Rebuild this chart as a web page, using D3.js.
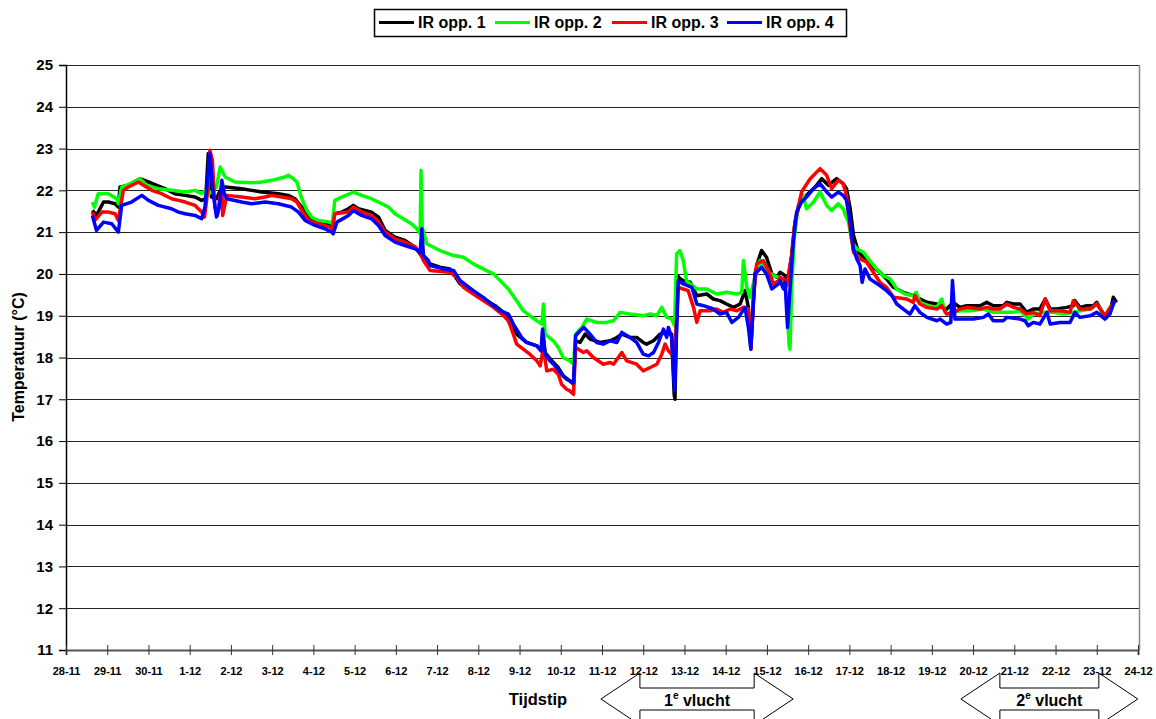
<!DOCTYPE html>
<html>
<head>
<meta charset="utf-8">
<script src="https://cdn.jsdelivr.net/npm/d3@7"></script>
<style>
  body { margin: 0; background: #fff; }
  text { font-family: "Liberation Sans", Arial, sans-serif; font-weight: bold; fill: #000; }
</style>
</head>
<body>
<svg id="chart"></svg>
<script>
// x-as: dagen vanaf 28-11
const dagLabels = ["28-11","29-11","30-11","1-12","2-12","3-12","4-12","5-12","6-12","7-12","8-12","9-12","10-12","11-12","12-12","13-12","14-12","15-12","16-12","17-12","18-12","19-12","20-12","21-12","22-12","23-12","24-12"];
const yTicks = [11,12,13,14,15,16,17,18,19,20,21,22,23,24,25];

const seriesNames = ["IR opp. 1", "IR opp. 2", "IR opp. 3", "IR opp. 4"];
const seriesColors = ["#000000", "#00ff00", "#ff0000", "#0000ff"];

// IR opp. 1
const dagen1 = [0.64,0.74,0.91,1.03,1.19,1.27,1.31,1.51,1.79,2.00,2.20,2.40,2.64,2.89,3.13,3.29,3.39,3.45,3.49,3.53,3.65,3.74,3.86,4.26,4.50,4.75,5.15,5.39,5.55,5.72,5.88,6.12,6.40,6.46,6.51,6.69,6.85,6.97,7.09,7.25,7.41,7.58,7.74,7.98,8.22,8.47,8.59,8.71,
  8.83,9.07,9.31,9.40,9.56,9.72,9.96,10.20,10.41,10.61,10.69,10.77,10.93,11.17,11.42,11.54,11.56,11.62,11.78,11.94,12.06,12.22,12.31,12.36,12.47,12.59,12.71,12.95,13.20,13.36,13.48,13.68,13.84,14.00,14.08,14.25,14.41,14.57,14.69,14.75,14.77,14.83,14.88,14.97,15.14,15.22,15.30,15.54,15.70,15.86,16.02,16.19,16.35,16.47,16.55,16.61,16.71,16.79,16.87,16.99,17.12,17.24,
  17.32,17.44,17.50,17.60,17.68,17.80,17.96,18.17,18.33,18.49,18.69,18.85,18.93,19.02,19.10,19.22,19.38,19.58,19.74,19.90,20.07,20.31,20.55,20.63,20.88,21.12,21.24,21.36,21.52,21.68,21.85,22.17,22.33,22.49,22.73,22.82,22.98,23.14,23.30,23.46,23.62,23.75,23.87,24.03,24.27,24.43,24.47,24.59,24.76,24.92,25.00,25.20,25.32,25.40,25.48];
const temp1 = [21.52,21.40,21.72,21.72,21.68,21.60,22.08,22.12,22.28,22.20,22.12,22.04,21.92,21.88,21.84,21.76,21.80,22.88,22.72,21.84,21.80,22.00,22.08,22.04,22.00,21.96,21.92,21.88,21.80,21.60,21.36,21.24,21.16,21.12,21.44,21.48,21.56,21.64,21.56,21.52,21.48,21.36,21.04,20.88,20.80,20.64,20.48,20.28,
  20.24,20.16,20.12,20.00,19.76,19.64,19.52,19.36,19.24,19.08,18.96,18.80,18.56,18.36,18.28,18.16,18.64,18.12,17.92,17.76,17.56,17.44,17.36,18.40,18.36,18.56,18.44,18.36,18.40,18.48,18.56,18.48,18.48,18.36,18.32,18.40,18.56,18.60,18.56,17.12,17.00,19.96,19.90,19.84,19.80,19.64,19.48,19.52,19.40,19.36,19.28,19.20,19.28,19.60,19.20,18.24,20.00,20.32,20.56,20.40,20.00,19.92,
  20.04,19.96,19.80,20.44,21.24,21.72,21.88,22.08,22.28,22.12,22.28,22.16,22.04,21.56,20.92,20.52,20.36,20.16,20.04,19.88,19.68,19.56,19.48,19.44,19.32,19.28,19.20,19.16,19.32,19.20,19.24,19.24,19.32,19.24,19.24,19.32,19.28,19.28,19.08,19.16,19.16,19.40,19.16,19.16,19.20,19.24,19.36,19.20,19.24,19.24,19.32,18.96,19.08,19.44,19.32];

// IR opp. 2
const dagen2 = [0.64,0.69,0.78,1.03,1.23,1.27,1.35,1.67,1.79,1.96,2.24,2.56,2.89,3.13,3.29,3.39,3.47,3.65,3.74,3.86,4.10,4.50,4.75,4.99,5.31,5.39,5.51,5.60,5.72,5.84,5.96,6.12,6.40,6.46,6.52,6.69,6.89,6.97,7.17,7.41,7.58,7.82,7.98,8.18,8.38,8.51,8.59,8.61,8.64,8.75,
  8.83,9.07,9.40,9.64,9.88,10.20,10.37,10.53,10.73,10.93,11.09,11.25,11.42,11.54,11.58,11.62,11.82,11.94,12.06,12.22,12.31,12.36,12.51,12.63,12.87,13.11,13.28,13.44,13.68,14.00,14.17,14.33,14.45,14.57,14.69,14.76,14.81,14.89,14.97,15.05,15.14,15.30,15.54,15.78,16.02,16.27,16.39,16.43,16.51,16.59,16.71,16.83,16.91,17.16,17.28,
  17.32,17.44,17.48,17.54,17.56,17.60,17.66,17.76,17.88,17.96,18.13,18.29,18.45,18.57,18.73,18.85,18.89,18.98,19.06,19.18,19.34,19.46,19.66,19.82,19.99,20.15,20.35,20.55,20.62,20.71,20.92,21.12,21.24,21.32,21.44,21.68,21.93,22.25,22.49,22.65,22.98,23.14,23.34,23.46,23.71,23.95,24.19,24.43,24.59,24.84,25.00,25.20,25.32,25.44];
const temp2 = [21.72,21.60,21.92,21.92,21.80,21.68,22.08,22.20,22.28,22.12,22.04,22.00,21.96,22.00,21.92,22.00,21.92,22.08,22.56,22.32,22.20,22.18,22.20,22.24,22.32,22.36,22.28,22.20,21.80,21.52,21.36,21.28,21.24,21.20,21.76,21.84,21.92,21.96,21.88,21.80,21.72,21.60,21.44,21.32,21.20,21.08,20.96,22.48,21.12,20.72,
  20.68,20.56,20.44,20.40,20.24,20.08,20.00,19.84,19.64,19.36,19.12,19.00,18.88,18.80,19.28,18.56,18.40,18.24,18.00,17.92,17.84,18.56,18.72,18.92,18.84,18.84,18.88,19.08,19.04,19.00,19.04,19.00,19.20,18.96,18.92,18.76,20.48,20.56,20.32,19.84,19.76,19.64,19.64,19.52,19.56,19.52,19.56,20.32,19.68,19.44,19.92,20.32,20.16,19.96,19.92,
  19.80,19.80,19.40,18.28,18.20,19.64,20.84,21.64,21.88,21.56,21.72,21.96,21.64,21.52,21.68,21.56,21.44,21.24,20.76,20.60,20.52,20.36,20.12,19.96,19.88,19.64,19.52,19.48,19.56,19.32,19.24,19.20,19.40,19.08,19.04,19.12,19.12,19.16,19.08,19.08,19.08,19.12,18.92,19.04,19.08,19.08,19.04,19.08,19.12,19.16,19.28,19.00,19.20,19.32];

// IR opp. 3
const dagen3 = [0.64,0.70,0.87,1.03,1.19,1.27,1.39,1.51,1.76,1.88,2.08,2.32,2.56,2.73,2.89,3.13,3.29,3.36,3.44,3.49,3.55,3.61,3.67,3.74,3.78,3.80,3.90,4.26,4.58,4.83,4.99,5.23,5.47,5.60,5.72,5.88,6.12,6.40,6.46,6.52,6.85,6.97,7.17,7.41,7.58,7.74,7.98,8.22,8.47,8.59,8.67,
  8.83,9.31,9.48,9.64,9.88,10.12,10.37,10.57,10.73,10.85,10.93,11.09,11.25,11.42,11.50,11.58,11.66,11.82,11.94,12.02,12.14,12.22,12.31,12.36,12.55,12.63,12.79,13.03,13.20,13.28,13.48,13.60,13.84,14.00,14.17,14.33,14.45,14.53,14.61,14.69,14.74,14.79,14.85,14.97,15.09,15.22,15.30,15.38,15.62,15.78,15.94,16.11,16.27,16.43,16.55,16.61,16.67,16.75,16.91,17.04,17.16,17.28,
  17.32,17.40,17.48,17.60,17.68,17.84,18.05,18.29,18.45,18.57,18.73,18.85,18.93,19.02,19.10,19.26,19.42,19.58,19.74,19.90,20.07,20.39,20.55,20.59,20.71,20.88,21.12,21.24,21.36,21.52,21.68,21.85,22.17,22.33,22.49,22.65,22.82,22.98,23.14,23.30,23.46,23.62,23.75,23.87,24.11,24.35,24.43,24.59,24.84,25.00,25.20,25.36,25.44];
const temp3 = [21.48,21.28,21.48,21.48,21.44,21.28,22.00,22.08,22.20,22.12,22.00,21.92,21.80,21.76,21.72,21.64,21.48,21.36,22.00,22.96,22.72,21.60,21.40,21.88,22.16,21.40,21.88,21.84,21.80,21.84,21.88,21.84,21.80,21.72,21.52,21.28,21.20,21.12,21.08,21.44,21.48,21.60,21.48,21.40,21.24,21.00,20.84,20.76,20.64,20.52,20.32,
  20.08,20.04,19.92,19.68,19.52,19.36,19.20,19.04,18.88,18.56,18.32,18.20,18.08,17.92,17.80,18.24,17.68,17.72,17.60,17.36,17.24,17.20,17.12,18.24,18.12,18.16,18.00,17.84,17.88,17.84,18.12,17.92,17.84,17.68,17.76,17.84,18.08,18.32,18.16,18.08,17.92,18.56,19.68,19.64,19.60,19.20,18.84,19.12,19.12,19.16,19.08,19.16,19.12,19.20,19.16,18.20,19.36,20.24,20.32,20.08,19.76,19.84,
  19.92,19.88,19.72,20.44,21.24,21.96,22.28,22.52,22.36,22.04,22.24,22.16,21.88,21.08,20.52,20.36,20.28,20.04,19.80,19.68,19.44,19.40,19.32,19.48,19.28,19.20,19.16,19.24,19.04,19.08,19.16,19.20,19.16,19.20,19.16,19.16,19.28,19.20,19.16,19.04,19.08,19.00,19.40,19.12,19.12,19.08,19.36,19.16,19.16,19.28,19.00,19.24,19.36];

// IR opp. 4
const dagen4 = [0.64,0.74,0.91,1.11,1.27,1.35,1.59,1.84,2.00,2.24,2.56,2.73,2.89,3.13,3.29,3.37,3.49,3.56,3.65,3.72,3.78,3.84,3.90,4.26,4.50,4.83,5.15,5.47,5.64,5.80,6.04,6.28,6.44,6.48,6.57,6.85,6.97,7.17,7.41,7.58,7.74,7.98,8.22,8.47,8.59,8.63,8.67,8.79,
  8.83,9.15,9.40,9.56,9.72,9.88,10.12,10.32,10.53,10.73,10.85,11.05,11.17,11.42,11.52,11.56,11.62,11.74,11.90,12.02,12.14,12.31,12.36,12.47,12.56,12.71,12.87,13.03,13.20,13.36,13.48,13.68,13.84,14.00,14.13,14.25,14.37,14.49,14.57,14.61,14.69,14.76,14.85,14.97,15.18,15.30,15.46,15.70,15.86,16.02,16.15,16.31,16.47,16.55,16.61,16.71,16.87,16.99,17.12,17.28,
  17.32,17.40,17.44,17.50,17.56,17.64,17.72,17.84,17.96,18.13,18.29,18.45,18.57,18.73,18.85,18.93,19.02,19.10,19.18,19.26,19.31,19.38,19.50,19.74,19.90,20.03,20.15,20.31,20.47,20.59,20.71,20.88,21.12,21.20,21.36,21.46,21.50,21.56,21.72,22.01,22.25,22.37,22.49,22.73,22.82,23.14,23.26,23.34,23.46,23.62,23.79,23.87,24.11,24.35,24.47,24.59,24.84,25.00,25.20,25.32,25.43];
const temp4 = [21.40,21.04,21.24,21.20,21.00,21.64,21.72,21.88,21.76,21.64,21.56,21.48,21.44,21.40,21.32,21.60,22.88,22.00,21.36,21.60,22.24,21.92,21.80,21.72,21.68,21.72,21.68,21.60,21.48,21.28,21.16,21.08,21.00,20.96,21.24,21.40,21.52,21.40,21.32,21.16,20.92,20.76,20.68,20.60,20.52,21.08,20.44,20.32,
  20.20,20.12,20.08,19.84,19.72,19.60,19.44,19.28,19.12,19.04,18.80,18.48,18.36,18.28,18.16,18.68,18.08,17.92,17.76,17.60,17.48,17.40,18.52,18.64,18.72,18.56,18.36,18.32,18.40,18.36,18.60,18.48,18.36,18.08,18.04,18.12,18.36,18.68,18.48,18.72,18.48,17.20,19.84,19.76,19.68,19.28,19.24,19.16,19.04,19.08,18.84,18.96,19.20,18.72,18.20,20.00,20.16,20.00,19.64,19.76,
  19.84,19.64,19.80,18.72,19.64,20.76,21.48,21.72,21.84,22.04,22.16,21.96,21.84,21.96,21.88,21.76,21.24,20.60,20.36,20.20,19.80,20.12,19.88,19.72,19.60,19.48,19.28,19.16,19.04,19.24,19.08,18.96,18.88,18.92,18.80,18.84,19.84,18.92,18.92,18.92,18.96,19.04,18.88,18.88,18.96,18.92,18.88,18.76,18.84,18.80,19.08,18.80,18.84,18.84,19.08,18.96,19.00,19.08,18.92,19.04,19.36];

const dagenSeries = [dagen1, dagen2, dagen3, dagen4];
const tempSeries = [temp1, temp2, temp3, temp4];

// pijlen onder de x-as (vluchten)
const vluchtNr = ["1", "2"];
const vluchtStart = [13.92, 22.65];
const vluchtEind = [16.69, 25.05];

const W = 1156, H = 719;
const svg = d3.select("#chart").attr("width", W).attr("height", H);

const x = d3.scaleLinear().domain([0, 26]).range([66, 1138]);
const y = d3.scaleLinear().domain([11, 25]).range([650, 65]);

// vlucht-pijlen (onder de aslabels getekend)
const cy = 699;
vluchtNr.forEach((nr, i) => {
  const l = x(vluchtStart[i]), r = x(vluchtEind[i]);
  const head = 39;
  const pts = [
    [l - head, cy], [l, cy - 26], [l, cy - 11], [r, cy - 11], [r, cy - 26],
    [r + head, cy], [r, cy + 26], [r, cy + 11], [l, cy + 11], [l, cy + 26]
  ];
  svg.append("path")
    .attr("d", "M" + pts.map(p => p.join(",")).join("L") + "Z")
    .attr("fill", "#fff")
    .attr("stroke", "#000")
    .attr("stroke-width", 1);
  const t = svg.append("text")
    .attr("x", (l + r) / 2).attr("y", cy + 7)
    .attr("text-anchor", "middle")
    .style("font-size", "16px");
  t.append("tspan").text(nr);
  t.append("tspan").attr("dy", -7).style("font-size", "10px").text("e");
  t.append("tspan").attr("dy", 7).text(" vlucht");
});

// rasterlijnen
svg.append("g")
  .selectAll("line")
  .data(yTicks.slice(1))
  .enter()
  .append("line")
  .attr("x1", x(0)).attr("x2", x(26) + 1)
  .attr("y1", d => Math.round(y(d)) + 0.5)
  .attr("y2", d => Math.round(y(d)) + 0.5)
  .attr("stroke", "#222")
  .attr("stroke-width", 1);

// rechterrand
svg.append("line")
  .attr("x1", x(26) + 1.5).attr("x2", x(26) + 1.5)
  .attr("y1", y(25)).attr("y2", y(11))
  .attr("stroke", "#888").attr("stroke-width", 1.5);

// y-as
const yAxis = d3.axisLeft(y).tickValues(yTicks).tickSize(7).tickPadding(6);
const gy = svg.append("g").attr("transform", `translate(${x(0)},0)`).call(yAxis);
gy.select(".domain").attr("stroke", "#000").attr("stroke-width", 1.5);
gy.selectAll(".tick line").attr("stroke", "#000");
gy.selectAll(".tick text")
  .style("font-family", '"Liberation Sans", Arial, sans-serif')
  .style("font-weight", "bold")
  .style("font-size", "15px");

// x-as
const xAxis = d3.axisBottom(x)
  .tickValues(d3.range(0, 27))
  .tickFormat((d, i) => dagLabels[i])
  .tickSize(5)
  .tickPadding(12);
const gx = svg.append("g").attr("transform", `translate(0,${y(11)})`).call(xAxis);
gx.select(".domain").attr("stroke", "#555").attr("stroke-width", 2);
gx.selectAll(".tick line").attr("y1", -5).attr("y2", 5).attr("stroke", "#333");
gx.selectAll(".tick text")
  .style("font-family", '"Liberation Sans", Arial, sans-serif')
  .style("font-weight", "bold")
  .style("font-size", "11px");

// as-titels
svg.append("text")
  .attr("transform", "translate(24,357) rotate(-90)")
  .attr("text-anchor", "middle")
  .style("font-size", "16px")
  .text("Temperatuur (°C)");

svg.append("text")
  .attr("x", 538).attr("y", 705)
  .attr("text-anchor", "middle")
  .style("font-size", "16.5px")
  .text("Tijdstip");

// lijnen
const line = d3.line()
  .x(d => x(d[0]))
  .y(d => y(d[1]));

tempSeries.forEach((temps, s) => {
  const pts = temps.map((t, i) => [dagenSeries[s][i], t]);
  svg.append("path")
    .datum(pts)
    .attr("fill", "none")
    .attr("stroke", seriesColors[s])
    .attr("stroke-width", 3.5)
    .attr("stroke-linejoin", "round")
    .attr("d", line);
});

// legenda
const leg = svg.append("g");
leg.append("rect")
  .attr("x", 374.5).attr("y", 9.5)
  .attr("width", 472).attr("height", 27)
  .attr("fill", "#fff").attr("stroke", "#000").attr("stroke-width", 1.5);
const legX = [379, 495, 612, 727];
seriesNames.forEach((name, i) => {
  leg.append("line")
    .attr("x1", legX[i]).attr("x2", legX[i] + 35)
    .attr("y1", 22.5).attr("y2", 22.5)
    .attr("stroke", seriesColors[i]).attr("stroke-width", 3);
  leg.append("text")
    .attr("x", legX[i] + 39).attr("y", 28)
    .style("font-size", "16px")
    .text(name);
});
</script>
</body>
</html>
